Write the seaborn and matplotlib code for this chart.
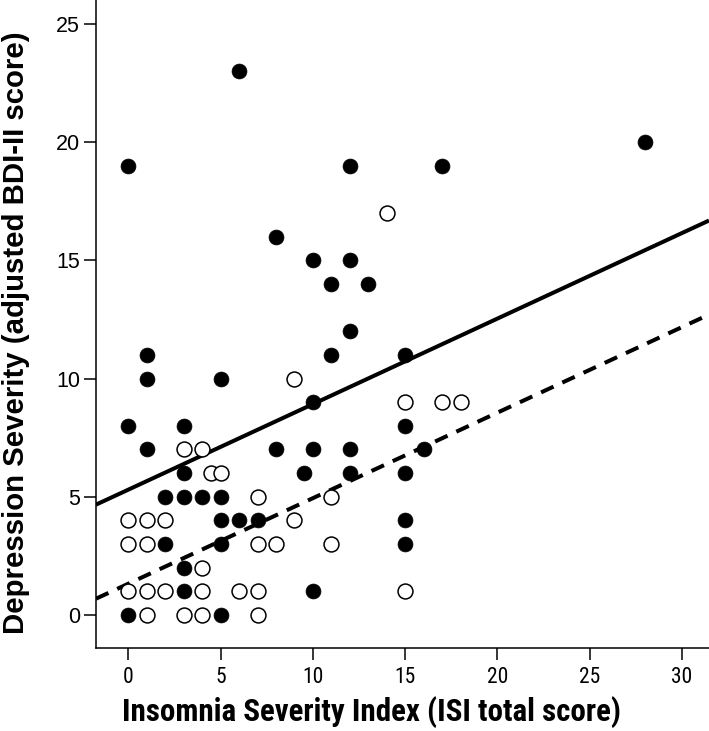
import numpy as np
import pandas as pd
import matplotlib
matplotlib.use("Agg")
import matplotlib.pyplot as plt
import seaborn as sns

# ── Data (ISI total score vs adjusted BDI-II score) ───────────────────────────
filled_x = [0, 6, 12, 17, 28, 8, 10, 12, 11, 13, 12, 1, 11, 15, 1, 5, 10, 0, 3, 15,
            1, 8, 10, 12, 16, 3, 9.5, 12, 15, 2, 3, 4, 5, 5, 6, 7, 15, 2, 5, 15,
            3, 3, 10, 0, 5]
filled_y = [19, 23, 19, 19, 20, 16, 15, 15, 14, 14, 12, 11, 11, 11, 10, 10, 9, 8, 8, 8,
            7, 7, 7, 7, 7, 6, 6, 6, 6, 5, 5, 5, 5, 4, 4, 4, 4, 3, 3, 3,
            2, 1, 1, 0, 0]

open_x = [14, 9, 15, 17, 18, 3, 4, 4.5, 5, 7, 11, 0, 1, 2, 9, 0, 1, 7, 8, 11,
          4, 0, 1, 2, 4, 6, 7, 15, 1, 3, 4, 7]
open_y = [17, 10, 9, 9, 9, 7, 7, 6, 6, 5, 5, 4, 4, 4, 4, 3, 3, 3, 3, 3,
          2, 1, 1, 1, 1, 1, 1, 1, 0, 0, 0, 0]

# fitted lines: filled group (solid), open group (dashed)
line_intercepts = [5.30, 1.32]
line_slopes = [0.362, 0.362]
line_styles = ["-", "--"]

x_ticks = [0, 5, 10, 15, 20, 25, 30]
y_ticks = [0, 5, 10, 15, 20, 25]

NARROW = ["Roboto Condensed", "Liberation Sans", "DejaVu Sans"]
WIDE = ["Liberation Sans", "DejaVu Sans"]

sns.set_style("ticks")
plt.rcParams["font.family"] = NARROW
plt.rcParams.update({"text.color": "black", "axes.labelcolor": "black",
                     "xtick.color": "black", "ytick.color": "black"})

df_f = pd.DataFrame({"isi": filled_x, "bdi": filled_y})
df_o = pd.DataFrame({"isi": open_x, "bdi": open_y})

fig = plt.figure(figsize=(7.09, 7.31), dpi=100)
ax = fig.add_axes([96 / 709, 1 - 648 / 731, 613 / 709, 648 / 731])

xlim = (-1.75, 31.46)
ylim = (-1.40, 26.02)

# regression lines
xs = np.array(xlim)
for b0, b1, ls in zip(line_intercepts, line_slopes, line_styles):
    ax.plot(xs, b0 + b1 * xs, color="black", lw=2.9, linestyle=ls,
            dashes=(3.4, 2.4) if ls == "--" else (None, None), zorder=2,
            solid_capstyle="butt")

sns.scatterplot(data=df_o, x="isi", y="bdi", ax=ax, s=115, marker="o",
                facecolor="white", edgecolor="black", linewidth=1.1, zorder=3)
sns.scatterplot(data=df_f, x="isi", y="bdi", ax=ax, s=115, marker="o",
                color="black", edgecolor="black", linewidth=0.5, zorder=4)

ax.set_xlim(*xlim)
ax.set_ylim(*ylim)
ax.set_xticks(x_ticks)
ax.set_yticks(y_ticks)
ax.set_xticklabels([str(t) for t in x_ticks], fontsize=15.5, family=NARROW)
ax.set_yticklabels([str(t) for t in y_ticks], fontsize=15.5, family=WIDE)

for s in ["top", "right"]:
    ax.spines[s].set_visible(False)
for s in ["left", "bottom"]:
    ax.spines[s].set_linewidth(1.1)
    ax.spines[s].set_color("black")
ax.tick_params(axis="both", direction="out", length=8.5, width=1.1, colors="black")
ax.tick_params(axis="y", pad=3)
ax.tick_params(axis="x", pad=5)

ax.set_xlabel("Insomnia Severity Index (ISI total score)", fontsize=22.3,
              fontweight="bold", family=NARROW)
ax.set_ylabel("Depression Severity (adjusted BDI-II score)", fontsize=21.2,
              fontweight="bold", family=WIDE)
ax.xaxis.set_label_coords(0.4496, -0.074)
ax.yaxis.set_label_coords(-0.108, 0.487)

fig.savefig("out.png", dpi=100)
plt.close()
